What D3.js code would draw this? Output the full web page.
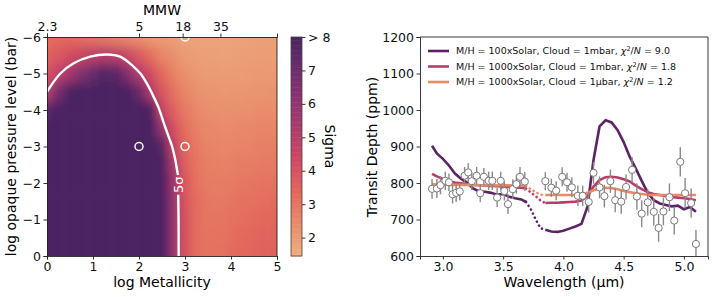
<!DOCTYPE html>
<html><head><meta charset="utf-8">
<script src="https://cdn.jsdelivr.net/npm/d3@7"></script>
<style>body{margin:0;background:#fff}text{font-family:"DejaVu Sans",sans-serif}</style>
</head><body>
<script>
// ---------- Left panel data ----------
const logZ = d3.range(0, 5.001, 0.25);
const logP = [-6,-5.5,-5,-4.5,-4,-3.5,-3,-2.5,-2,-1.5,-1,-0.5,0];
const sigmaGrid = [
 [3.2,3.3,3.3,3.2,3.0,2.9,2.7,2.5,2.3,2.1,2.0,1.9,1.8,1.8,1.8,1.8,1.8,1.8,1.85,1.85,1.9],
 [3.5,3.8,4.2,4.5,4.9,5.1,5.0,4.5,3.8,3.2,2.6,2.3,2.0,1.9,1.85,1.85,1.85,1.9,1.9,1.95,1.95],
 [4.0,4.8,5.6,6.5,7.2,7.8,7.6,6.5,5.2,4.2,3.3,2.7,2.3,2.1,2.0,2.0,2.0,2.0,2.05,2.05,2.1],
 [5.0,6.8,8,9,9,9,9,8.5,7.2,5.3,3.9,3.1,2.6,2.3,2.2,2.15,2.15,2.15,2.2,2.2,2.25],
 [7.5,9,9,9,9,9,9,9,9,8.0,4.6,3.5,2.9,2.5,2.35,2.3,2.3,2.3,2.35,2.4,2.4],
 [9,9,9,9,9,9,9,9,9,8.8,6.0,4.1,3.2,2.7,2.5,2.45,2.45,2.5,2.55,2.6,2.6],
 [9,9,9,9,9,9,9,9,9,9,7.8,4.7,3.4,2.9,2.65,2.6,2.6,2.65,2.7,2.75,2.8],
 [9,9,9,9,9,9,9,9,9,9,8.6,5.4,3.6,3.0,2.75,2.7,2.75,2.8,2.85,2.9,2.95],
 [9,9,9,9,9,9,9,9,9,9,9,5.8,3.8,3.1,2.85,2.8,2.85,2.95,3.0,3.05,3.1],
 [9,9,9,9,9,9,9,9,9,9,9,6.0,3.9,3.2,2.95,2.9,3.0,3.1,3.15,3.2,3.25],
 [9,9,9,9,9,9,9,9,9,9,9,6.0,4.0,3.2,3.0,3.0,3.1,3.2,3.3,3.35,3.4],
 [9,9,9,9,9,9,9,9,9,9,9,6.0,4.0,3.2,3.05,3.05,3.2,3.3,3.4,3.45,3.5],
 [9,9,9,9,9,9,9,9,9,9,9,6.0,4.0,3.2,3.05,3.1,3.25,3.35,3.45,3.5,3.55]
];
const contourUpper = [[0,-4.5],[0.29,-5.0],[0.58,-5.28],[0.94,-5.46],[1.3,-5.52],[1.59,-5.46],[1.88,-5.19],[2.03,-5.0],[2.17,-4.73],[2.32,-4.36],[2.43,-4.05],[2.54,-3.64],[2.65,-3.25],[2.72,-3.0],[2.79,-2.63],[2.84,-2.27],[2.85,-2.22]];
const contourLower = [[2.853,-1.68],[2.86,-1.0],[2.862,0]];
const markerZ = [2, 3, 3];
const markerP = [-3, -3, -6];
const xTicksL = [0,1,2,3,4,5];
const yTicksL = [-6,-5,-4,-3,-2,-1,0];
const topTickPos = [0, 2, 2.95, 3.77];
const topTickLabels = ["2.3","5","18","35"];
const cbTicks = [2,3,4,5,6,7,8];
const cbTickLabels = ["2","3","4","5","6","7","> 8"];
const flareStops = ["#edb081","#e98d6b","#e3685c","#d14a61","#b13c6c","#8f3371","#6c2b6d","#4b2362"];

// ---------- Right panel data ----------
const obsWave = [2.91,2.95,2.98,3.02,3.05,3.08,3.11,3.14,3.18,3.21,3.24,3.28,3.31,3.34,3.38,3.41,3.45,3.48,3.51,3.54,3.58,3.61,3.64,3.68,
 3.85,3.90,3.94,3.99,4.03,4.07,4.12,4.16,4.21,4.25,4.30,4.34,4.39,4.43,4.48,4.52,4.57,4.61,4.65,4.70,4.75,4.79,4.83,4.88,4.92,4.97,5.01,5.06,5.10];
const obsDepth = [784,785,794,806,802,769,773,777,820,829,805,820,772,817,806,806,760,806,778,742,783,797,817,804,
 805,787,779,817,802,788,765,765,748,828,788,764,805,753,749,789,836,763,716,747,721,677,722,761,697,858,772,745,633];
const obsErr = [27,26,25,25,24,25,25,24,24,25,24,24,25,24,25,25,26,25,26,27,27,26,27,26,
 25,25,26,26,26,27,28,28,29,30,30,31,32,33,33,34,35,36,37,37,38,38,38,38,38,40,42,40,38];

const waveA = [2.91,2.95,3.00,3.05,3.10,3.15,3.20,3.25,3.30,3.35,3.40,3.45,3.50,3.55,3.60,3.65,3.69];
const waveGap = [3.69,3.73,3.77,3.81,3.85];
const waveB = [3.85,3.90,3.95,4.00,4.05,4.10,4.15,4.20,4.25,4.30,4.35,4.40,4.45,4.50,4.55,4.60,4.65,4.70,4.75,4.80,4.85,4.90,4.95,5.00,5.05,5.10];
const purpleA = [902,881,866,848,826,812,801,785,777,776,773,768,770,762,758,755,748];
const purpleGap = [748,728,700,676,672];
const purpleB = [672,667,666,669,675,681,688,735,863,955,972,966,945,912,872,840,806,773,753,744,740,736,738,728,734,721];
const magentaA = [825,818,811,804,801,799,797,795,794,793,792,791,790,789,788,787,785];
const magentaGap = [785,774,764,752,745];
const magentaB = [745,746,746,747,748,749,752,765,790,808,816,817,815,810,804,793,783,775,770,767,764,762,760,758,756,753];
const orangeA = [797,796,796,795,795,795,795,794,794,794,794,794,794,794,793,793,792];
const orangeGap = [792,783,775,768,767];
const orangeB = [767,767,767,767,767,767,768,773,780,785,787,786,783,778,775,772,770,768,767,767,767,767,767,767,767,767];
const modelNames = ["M/H = 100xSolar, Cloud = 1mbar, ","M/H = 1000xSolar, Cloud = 1mbar, ","M/H = 1000xSolar, Cloud = 1μbar, "];
const modelChi = ["9.0","1.8","1.2"];
const modelColors = ["#5c2367","#bd3c67","#ec8a65"];
const xTicksR = [3.0,3.5,4.0,4.5,5.0];
const yTicksR = [600,700,800,900,1000,1100,1200];

// ---------- Drawing ----------
const TICK = 12.5, LABEL = 14;
const svg = d3.select("body").append("svg").attr("width",714).attr("height",297);
const defs = svg.append("defs");
const xL = d3.scaleLinear([0,5],[47,277]);
const yL = d3.scaleLinear([-6,0],[37,256]);
const color = d3.scaleLinear().domain(d3.range(8).map(i=>1.45+i/7*(8-1.45))).range(flareStops).clamp(true);

defs.append("clipPath").attr("id","clipL").append("rect")
  .attr("x",xL(0)).attr("y",yL(-6)).attr("width",xL(5)-xL(0)).attr("height",yL(0)-yL(-6));
const blur = defs.append("filter").attr("id","smooth").attr("filterUnits","userSpaceOnUse")
  .attr("x",0).attr("y",0).attr("width",400).attr("height",297);
blur.append("feGaussianBlur").attr("stdDeviation","4 6");

const heat = svg.append("g").attr("clip-path","url(#clipL)").append("g").attr("filter","url(#smooth)");
const dz = 0.25, dp = 0.5, ext = 30;
const cells = [];
logP.forEach((p,i)=>logZ.forEach((z,j)=>cells.push({z,p,v:sigmaGrid[i][j],i,j})));
heat.selectAll("rect").data(cells).join("rect")
  .attr("x",d=>xL(d.z-dz/2) - (d.j===0?ext:0))
  .attr("y",d=>yL(d.p-dp/2) - (d.i===0?ext:0))
  .attr("width",d=>xL(d.z+dz/2)-xL(d.z-dz/2) + (d.j===0||d.j===logZ.length-1?ext:0) + 0.6)
  .attr("height",d=>yL(d.p+dp/2)-yL(d.p-dp/2) + (d.i===0||d.i===logP.length-1?ext:0) + 0.6)
  .attr("fill",d=>color(d.v));

const gL = svg.append("g").attr("clip-path","url(#clipL)");
const lineL = d3.line().x(d=>xL(d[0])).y(d=>yL(d[1])).curve(d3.curveCatmullRom);
gL.append("path").attr("d",lineL(contourUpper)).attr("fill","none").attr("stroke","#fff").attr("stroke-width",2.4);
gL.append("path").attr("d",lineL(contourLower)).attr("fill","none").attr("stroke","#fff").attr("stroke-width",2.4);
gL.selectAll("circle").data(markerZ).join("circle")
  .attr("cx",(d)=>xL(d)).attr("cy",(d,i)=>yL(markerP[i])).attr("r",4)
  .attr("fill","none").attr("stroke","#fff").attr("stroke-width",1.5);
svg.append("text").attr("transform",`translate(${xL(2.855)+4.5},${yL(-1.95)}) rotate(-90)`)
  .attr("text-anchor","middle").attr("fill","#fff").attr("font-size",13).text("5σ");

function styleAxis(g){
  g.selectAll(".domain").attr("stroke","#222").attr("stroke-width",0.9);
  g.selectAll(".tick line").attr("stroke","#222").attr("stroke-width",0.9);
  g.selectAll(".tick text").attr("fill","#111").attr("font-size",TICK).attr("font-family","DejaVu Sans");
}
styleAxis(svg.append("g").attr("transform",`translate(0,${yL(0)})`)
  .call(d3.axisBottom(xL).tickValues(xTicksL).tickFormat(d3.format("d")).tickSizeOuter(0).tickSize(3.5).tickPadding(2.5)));
styleAxis(svg.append("g").attr("transform",`translate(${xL(0)},0)`)
  .call(d3.axisLeft(yL).tickValues(yTicksL).tickFormat(d=>d===0?"0":d3.format("d")(d).replace("-","−")).tickSizeOuter(0).tickSize(3.5).tickPadding(2.5)));
styleAxis(svg.append("g").attr("transform",`translate(0,${yL(-6)})`)
  .call(d3.axisTop(xL).tickValues(topTickPos).tickFormat((d,i)=>topTickLabels[i]).tickSizeOuter(0).tickSize(3.5).tickPadding(2.5)));
svg.append("line").attr("x1",xL(5)).attr("x2",xL(5)).attr("y1",yL(-6)).attr("y2",yL(0)).attr("stroke","#222").attr("stroke-width",0.9);

svg.append("text").attr("x",xL(2.5)).attr("y",10).attr("dy","0.35em").attr("text-anchor","middle").attr("font-size",LABEL).text("MMW");
svg.append("text").attr("x",xL(2.5)).attr("y",287).attr("text-anchor","middle").attr("font-size",LABEL).text("log Metallicity");
svg.append("text").attr("transform",`translate(16,${(yL(-6)+yL(0))/2}) rotate(-90)`).attr("text-anchor","middle").attr("font-size",LABEL).text("log opaque pressure level (bar)");

// colorbar
const cbY = d3.scaleLinear([1.45,8],[256,37]);
const cbX0 = 291, cbW = 11;
const cbSteps = d3.range(1.45, 8, 0.05);
svg.append("g").selectAll("rect").data(cbSteps).join("rect")
  .attr("x",cbX0).attr("width",cbW).attr("y",d=>cbY(Math.min(8,d+0.05))).attr("height",d=>cbY(d)-cbY(Math.min(8,d+0.05))+0.5)
  .attr("fill",d=>color(d+0.025));
svg.append("rect").attr("x",cbX0).attr("y",37).attr("width",cbW).attr("height",219).attr("fill","none").attr("stroke","#444").attr("stroke-width",0.8);
styleAxis(svg.append("g").attr("transform",`translate(${cbX0+cbW},0)`)
  .call(d3.axisRight(cbY).tickValues(cbTicks).tickFormat((d,i)=>cbTickLabels[i]).tickSize(3.5).tickPadding(2.5)).call(g=>g.select(".domain").remove()));
svg.append("text").attr("transform",`translate(325,${(37+256)/2}) rotate(90)`).attr("text-anchor","middle").attr("font-size",LABEL).text("Sigma");

// ---------- Right panel ----------
const xR = d3.scaleLinear([2.81,5.2],[420,708]);
const yR = d3.scaleLinear([600,1200],[256,37]);
defs.append("clipPath").attr("id","clipR").append("rect").attr("x",420).attr("y",37).attr("width",288).attr("height",219);
const gR = svg.append("g").attr("clip-path","url(#clipR)");
const lineR = d3.line().x(d=>xR(d[0])).y(d=>yR(d[1]));
const models = [[purpleA,purpleGap,purpleB],[magentaA,magentaGap,magentaB],[orangeA,orangeGap,orangeB]];
models.forEach((m,k)=>{
  gR.append("path").attr("d",lineR(waveA.map((w,i)=>[w,m[0][i]]))).attr("fill","none").attr("stroke",modelColors[k]).attr("stroke-width",2.6);
  gR.append("path").attr("d",lineR(waveGap.map((w,i)=>[w,m[1][i]]))).attr("fill","none").attr("stroke",modelColors[k]).attr("stroke-width",2.6)
    .attr("stroke-dasharray","0.1 4.4").attr("stroke-linecap","round");
  gR.append("path").attr("d",lineR(waveB.map((w,i)=>[w,m[2][i]]))).attr("fill","none").attr("stroke",modelColors[k]).attr("stroke-width",2.6);
});
const obs = obsWave.map((w,i)=>({w,v:obsDepth[i],e:obsErr[i]}));
gR.selectAll("line.err").data(obs).join("line").attr("class","err")
  .attr("x1",d=>xR(d.w)).attr("x2",d=>xR(d.w)).attr("y1",d=>yR(d.v-d.e)).attr("y2",d=>yR(d.v+d.e))
  .attr("stroke","#8a8a8a").attr("stroke-width",1.4);
gR.selectAll("circle").data(obs).join("circle")
  .attr("cx",d=>xR(d.w)).attr("cy",d=>yR(d.v)).attr("r",3.6)
  .attr("fill","#fff").attr("stroke","#7a7a7a").attr("stroke-width",1);

styleAxis(svg.append("g").attr("transform",`translate(0,256)`)
  .call(d3.axisBottom(xR).tickValues(xTicksR).tickFormat(d3.format(".1f")).tickSizeOuter(0).tickSize(3.5).tickPadding(2.5)));
styleAxis(svg.append("g").attr("transform",`translate(420,0)`)
  .call(d3.axisLeft(yR).tickValues(yTicksR).tickFormat(d3.format("d")).tickSizeOuter(0).tickSize(3.5).tickPadding(2.5)));
svg.append("line").attr("x1",420).attr("x2",708).attr("y1",37).attr("y2",37).attr("stroke","#222").attr("stroke-width",0.9);
svg.append("line").attr("x1",708).attr("x2",708).attr("y1",37).attr("y2",256).attr("stroke","#222").attr("stroke-width",0.9);

svg.append("text").attr("x",564).attr("y",287).attr("text-anchor","middle").attr("font-size",LABEL).text("Wavelength (μm)");
svg.append("text").attr("transform",`translate(377,147) rotate(-90)`).attr("text-anchor","middle").attr("font-size",LABEL).text("Transit Depth (ppm)");

// legend
const leg = svg.append("g");
modelNames.forEach((name,k)=>{
  const y = 51 + k*15.5;
  leg.append("line").attr("x1",428).attr("x2",449).attr("y1",y).attr("y2",y).attr("stroke",modelColors[k]).attr("stroke-width",2.6);
  const t = leg.append("text").attr("x",456).attr("y",y).attr("dy","0.35em").attr("font-size",9.5).attr("fill","#111");
  t.append("tspan").text(name);
  t.append("tspan").attr("font-style","italic").text("χ");
  t.append("tspan").attr("font-size",6.5).attr("dy","-0.45em").text("2");
  t.append("tspan").attr("dy","0.3em").text("/");
  t.append("tspan").attr("font-style","italic").text("N");
  t.append("tspan").text(" = " + modelChi[k]);
});
</script>
</body></html>
